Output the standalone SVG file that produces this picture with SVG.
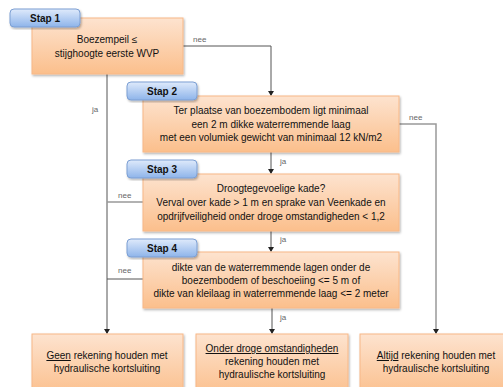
<svg xmlns="http://www.w3.org/2000/svg" width="503" height="387" viewBox="0 0 503 387">
<defs>
<linearGradient id="og" x1="0" y1="0" x2="0" y2="1">
<stop offset="0" stop-color="#fde3cf"/>
<stop offset="1" stop-color="#fbbf8c"/>
</linearGradient>
<linearGradient id="bg" x1="0" y1="0" x2="0" y2="1">
<stop offset="0" stop-color="#dfeafb"/>
<stop offset="1" stop-color="#8eb4ea"/>
</linearGradient>
<filter id="sh" x="-5%" y="-5%" width="115%" height="120%">
<feDropShadow dx="1" dy="1.5" stdDeviation="1" flood-color="#000" flood-opacity="0.3"/>
</filter>
<marker id="ar" markerWidth="6" markerHeight="6" refX="3" refY="5" orient="auto" markerUnits="userSpaceOnUse" viewBox="0 0 6 6">
<path d="M0,1 L6,1 L3,6 Z" fill="#222" transform="rotate(-90 3 3)"/>
</marker>
<marker id="ad" markerWidth="6" markerHeight="6" refX="3" refY="5" markerUnits="userSpaceOnUse" viewBox="0 0 6 6">
<path d="M0,1 L6,1 L3,6 Z" fill="#222"/>
</marker>
</defs>
<style>
.box{fill:url(#og);stroke:#f8b887;stroke-width:1;filter:url(#sh)}
.tab{fill:url(#bg);stroke:#7c9fd3;stroke-width:1;filter:url(#sh)}
.t{font-family:"Liberation Sans",Arial,sans-serif;font-size:10px;fill:#111;text-anchor:middle}
.tb{font-family:"Liberation Sans",Arial,sans-serif;font-size:10px;font-weight:bold;fill:#111;text-anchor:middle}
.lbl{font-family:"Liberation Sans",Arial,sans-serif;font-size:8px;fill:#666}
.ln{fill:none;stroke:#555;stroke-width:1}
.lg{fill:none;stroke:#999;stroke-width:1.5}
</style>
<rect width="503" height="387" fill="#fff"/>
<g id="connectors">
<polyline class="ln" points="183,46 271,46 271,95" marker-end="url(#ad)"/>
<polyline class="ln" points="107,74 107,333" marker-end="url(#ad)"/>
<line class="ln" x1="271" y1="152" x2="271" y2="173" marker-end="url(#ad)"/>
<line class="ln" x1="271" y1="231" x2="271" y2="251" marker-end="url(#ad)"/>
<line class="ln" x1="272" y1="308" x2="272" y2="333" marker-end="url(#ad)"/>
<polyline class="lg" points="399,124 436,124 436,333" marker-end="url(#ad)"/>
<line class="lg" x1="143" y1="202" x2="107" y2="202"/>
<line class="ln" x1="143" y1="279" x2="107" y2="279"/>
<text class="lbl" x="193" y="42">nee</text>
<text class="lbl" x="92" y="112">ja</text>
<text class="lbl" x="409" y="120">nee</text>
<text class="lbl" x="280" y="164">ja</text>
<text class="lbl" x="118" y="198">nee</text>
<text class="lbl" x="280" y="242">ja</text>
<text class="lbl" x="118" y="273">nee</text>
<text class="lbl" x="280" y="320">ja</text>
</g>
<g id="stap1">
<rect class="box" x="32" y="18" width="151" height="56"/>
<rect class="tab" x="10" y="9" width="70" height="18" rx="4"/>
<text class="tb" x="45" y="22">Stap 1</text>
<text class="t" x="107" y="43">Boezempeil ≤</text>
<text class="t" x="107" y="57">stijghoogte eerste WVP</text>
</g>
<g id="stap2">
<rect class="box" x="143" y="96" width="256" height="56"/>
<rect class="tab" x="127" y="82" width="70" height="18" rx="4"/>
<text class="tb" x="162" y="95">Stap 2</text>
<text class="t" x="271" y="114">Ter  plaatse van boezembodem ligt minimaal</text>
<text class="t" x="271" y="128">een  2 m  dikke waterremmende laag</text>
<text class="t" x="271" y="141">met een volumiek gewicht van minimaal 12 kN/m2</text>
</g>
<g id="stap3">
<rect class="box" x="143" y="174" width="256" height="57"/>
<rect class="tab" x="127" y="160" width="70" height="18" rx="4"/>
<text class="tb" x="162" y="173">Stap 3</text>
<text class="t" x="271" y="192">Droogtegevoelige kade?</text>
<text class="t" x="271" y="206">Verval over kade &gt; 1 m en sprake van Veenkade en</text>
<text class="t" x="271" y="220">opdrijfveiligheid onder droge omstandigheden &lt; 1,2</text>
</g>
<g id="stap4">
<rect class="box" x="143" y="252" width="256" height="56"/>
<rect class="tab" x="127" y="239" width="70" height="18" rx="4"/>
<text class="tb" x="162" y="252">Stap 4</text>
<text class="t" x="271" y="271">dikte van de waterremmende lagen onder de</text>
<text class="t" x="271" y="284">boezembodem of  beschoeiing &lt;= 5 m of</text>
<text class="t" x="271" y="297">dikte van kleilaag in waterremmende laag &lt;= 2 meter</text>
</g>
<g id="uitkomst1">
<rect class="box" x="32" y="334" width="151" height="62"/>
<text class="t" x="107" y="359"><tspan text-decoration="underline">Geen</tspan> rekening houden met</text>
<text class="t" x="107" y="372">hydraulische kortsluiting</text>
</g>
<g id="uitkomst2">
<rect class="box" x="196" y="334" width="152" height="62"/>
<text class="t" x="272" y="352" text-decoration="underline">Onder droge omstandigheden</text>
<text class="t" x="272" y="365">rekening houden met</text>
<text class="t" x="272" y="378">hydraulische kortsluiting</text>
</g>
<g id="uitkomst3">
<rect class="box" x="360" y="334" width="150" height="62"/>
<text class="t" x="436" y="359"><tspan text-decoration="underline">Altijd</tspan> rekening houden met</text>
<text class="t" x="436" y="372">hydraulische kortsluiting</text>
</g>
</svg>
